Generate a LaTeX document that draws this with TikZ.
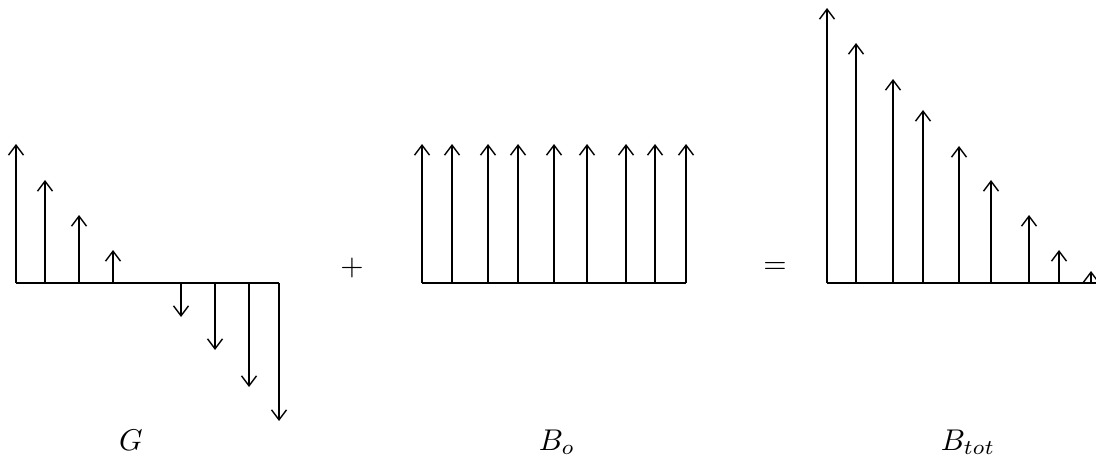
\documentclass[tikz,border=0pt]{standalone}
\usepackage{amsmath}
\usepackage{tikz}
\usetikzlibrary{arrows.meta}

\begin{document}
\begin{tikzpicture}[x=1pt,y=-1pt,line width=1.4pt,
  spike/.style={-{Straight Barb[length=10pt,width=15pt]}},
  lbl/.style={scale=3}]
\useasboundingbox (0,0) rectangle (1096,468);
% G
\draw (16,283) coordinate (gl) -- (279,283) coordinate (gr);
\foreach \x/\y in %
{16/144,45/180,79/215,113/250,181/317,215/350,249/387,279/421} {
   \draw[spike] (\x,283) -- (\x,\y);
}
% B_o
\draw (422,283) coordinate (bl) -- (686,283) coordinate (br);
\foreach \x in %
{422,452,488,518,554,587,626,655,686} {
   \draw[spike] (\x,283) -- (\x,144);
}
% B_tot
\draw (827,283) coordinate (tl) -- (1096,283) coordinate (tr);
\foreach \x/\y in %
{827/8,856/43,893/79,923/110,959/146,991/180,1029/215,1059/250,1091/271} {
   \draw[spike] (\x,283) -- (\x,\y);
}
\node[lbl] (plus) at (352,268) {$+$};
\node[lbl] (eq) at (775,268) {$=$};
\node[lbl] (lblG) at (131,440) {$G$};
\node[lbl] (lblB) at (557,442) {$B_o$};
\node[lbl] (lblT) at (968,442) {$B_{tot}$};
\end{tikzpicture}
\end{document}
